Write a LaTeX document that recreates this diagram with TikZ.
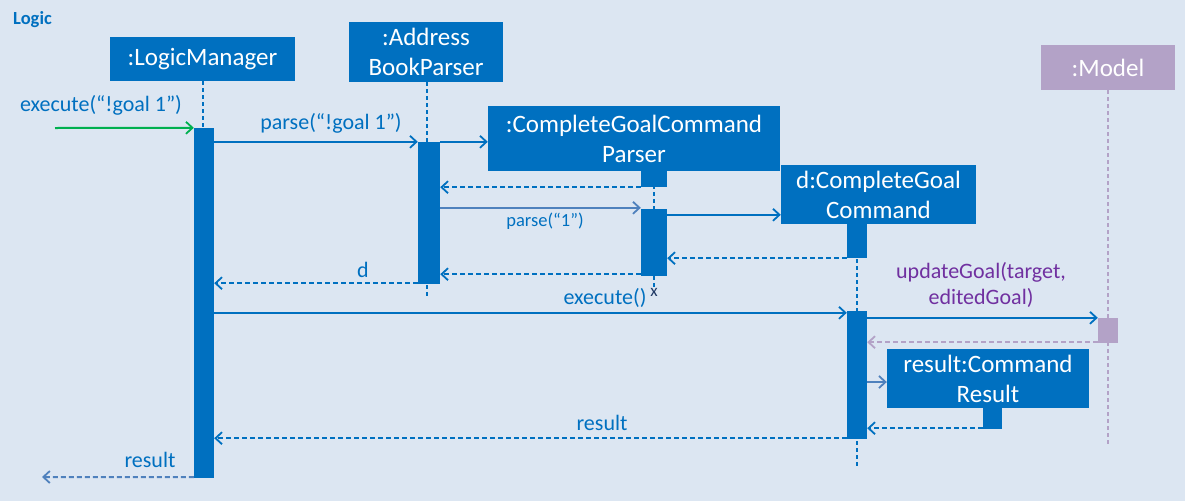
\documentclass[tikz,border=0pt]{standalone}
\usepackage{fontspec}
\setmainfont{Carlito}
\usetikzlibrary{arrows.meta,calc}
\definecolor{bg}{HTML}{DCE6F2}
\definecolor{boxblue}{HTML}{0070C0}
\definecolor{lav}{HTML}{B3A2C7}
\definecolor{purp}{HTML}{7030A0}
\definecolor{steel}{HTML}{4F81BD}
\definecolor{grn}{HTML}{00B050}
\definecolor{navy}{HTML}{1F3864}
\begin{document}
\begin{tikzpicture}[x=1pt,y=-1pt,
 objbox/.style={fill=boxblue, text=white, inner sep=0pt, align=center, font=\fontsize{25}{30}\selectfont},
 act/.style={fill=boxblue, inner sep=0pt, minimum width=20pt},
 life/.style={boxblue, line width=1.8pt, dash pattern=on 4pt off 3pt},
 msg/.style={boxblue, line width=2pt, -{Straight Barb[length=6.5pt,width=12pt,line width=1.8pt]}},
 ret/.style={msg, dash pattern=on 5pt off 3pt},
 lbl/.style={text=boxblue, font=\fontsize{22}{26}\selectfont, inner sep=0pt},
]
\fill[bg] (0,0) rectangle (1185,501);
\useasboundingbox (0,0) rectangle (1185,501);

\node[font=\bfseries\fontsize{18.5}{20}\selectfont, text=boxblue, inner sep=0pt] (title) at (32.5,20) {Logic};

% object boxes
\node[objbox, minimum width=185pt, minimum height=44pt] (lm) at (202.5,59) {:LogicManager};
\node[objbox, minimum width=154pt, minimum height=60pt] (ab) at (426,52) {:Address\\BookParser};
\node[objbox, minimum width=292pt, minimum height=65pt] (cgcp) at (634,138.5) {:CompleteGoalCommand\\Parser};
\node[objbox, minimum width=195pt, minimum height=59pt] (dc) at (878.5,194.5) {d:CompleteGoal\\Command};
\node[objbox, fill=lav, minimum width=134pt, minimum height=45pt] (model) at (1108,67.5) {:Model};
\node[objbox, minimum width=202pt, minimum height=59pt] (res) at (988,378.5) {result:Command\\Result};

% destruction mark
\node[text=navy, font=\fontsize{17}{18}\selectfont, inner sep=0pt] (xm) at (654,292) {x};

% lifeline ends
\coordinate (lmE) at (203,478);
\coordinate (abT) at (427,82);
\coordinate (abE) at (427,297);
\coordinate (cgT) at (654,171);
\coordinate (dcT) at (857,224);
\coordinate (dcE) at (857,466);
\coordinate (mE) at (1108,445);

% lifelines
\draw[life] (lm.south -| lmE) -- (lmE);
\draw[life] (abT) -- (abE);
\draw[life] (cgT) -- (xm.north);
\draw[life] (dcT) -- (dcE);
\draw[life, lav] (model.south) -- (mE);

% activations
\node[act, minimum height=350pt] (lmA) at (204,303) {};
\node[act, minimum width=22pt, minimum height=142pt] (abA) at (429,213) {};
\node[act, minimum width=26pt, minimum height=16pt] (cgcpS) at (654,179) {};
\node[act, minimum width=26pt, minimum height=67pt] (cgcpA) at (654,242.5) {};
\node[act, minimum height=34pt] (dcS) at (857,241) {};
\node[act, minimum height=128pt] (dA) at (857,375) {};
\node[act, fill=lav, minimum height=25pt] (mA) at (1108,330.5) {};
\node[act, minimum width=19pt, minimum height=21pt] (resS) at (992.5,418.5) {};

% messages
\coordinate (start) at (55,128);
\coordinate (endc) at (42,477);
\draw[msg, grn] (start) -- (lmA.north west);
\node[lbl] (l1) at (101,105) {execute(“!goal 1”)};

\draw[msg] (lmA.east |- abA.north) -- (abA.north west);
\node[lbl] (l2) at (331,123) {parse(“!goal 1”)};

\draw[msg] (abA.north east) -- (cgcp.west |- abA.north east);
\draw[ret] (cgcpS.south west) -- (abA.east |- cgcpS.south west);

\draw[msg, steel] ($(abA.east |- cgcpA.north)+(0,-1)$) -- ($(cgcpA.north west)+(0,-1)$);
\node[lbl, font=\fontsize{18.5}{22}\selectfont] (l3) at (545,221) {parse(“1”)};

\coordinate (m6) at ($(cgcpA.north east)+(0,6)$);
\draw[msg] (m6) -- (dc.west |- m6);
\draw[ret] (dcS.south west) -- (cgcpA.east |- dcS.south west);
\draw[ret] ($(cgcpA.south west)+(0,-2)$) -- ($(abA.east |- cgcpA.south west)+(0,-2)$);
\draw[ret] ($(abA.south west)+(0,-1)$) -- ($(lmA.east |- abA.south west)+(0,-1)$);
\node[lbl] (l4) at (363,270) {d};

\draw[msg] ($(lmA.east |- dA.north)+(0,2)$) -- ($(dA.north west)+(0,2)$);
\node[lbl] (l5) at (605,298) {execute()};

\draw[msg] (dA.east |- mA.north) -- (mA.north west);
\node[lbl, text=purp, align=center] (l6) at (981,285) {updateGoal(target,\\editedGoal)};
\draw[ret, lav] ($(mA.south west)+(0,-1)$) -- ($(dA.east |- mA.south west)+(0,-1)$);

\draw[msg, steel] ($(dA.east |- res.west)+(0,3.5)$) -- ($(res.west)+(0,3.5)$);
\draw[ret] ($(resS.south west)+(0,-1)$) -- ($(dA.east |- resS.south west)+(0,-1)$);

\draw[ret] ($(dA.south west)+(0,-1)$) -- ($(lmA.east |- dA.south west)+(0,-1)$);
\node[lbl] (l7) at (602,423) {result};

\draw[ret, steel] ($(lmA.south west)+(0,-1)$) -- (endc);
\node[lbl] (l8) at (150,460) {result};
\end{tikzpicture}
\end{document}
